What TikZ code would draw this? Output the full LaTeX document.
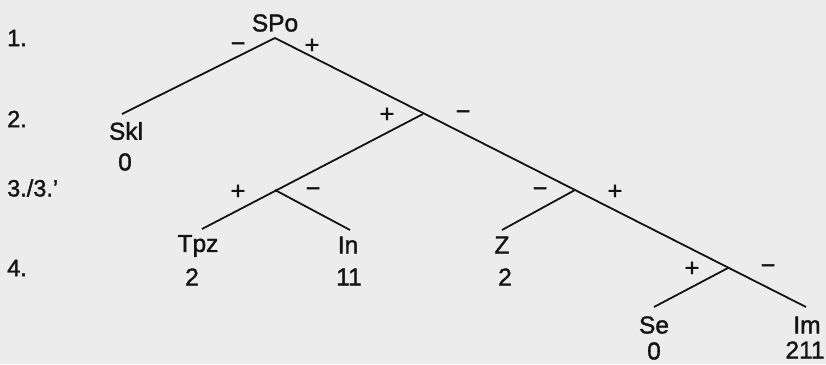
\documentclass[tikz,border=0pt]{standalone}
\usepackage{fontspec}
\setmainfont{Liberation Sans}[FakeBold=1.5]
\definecolor{paper}{RGB}{236,236,236}
\definecolor{ink}{RGB}{20,20,20}
\tikzset{
  lab/.style={inner sep=0pt, text=ink, font=\fontsize{24.5}{28}\selectfont},
  sgn/.style={inner sep=0pt, text=ink, font=\fontsize{25}{28}\selectfont},
  lvl/.style={inner sep=0pt, anchor=west, text=ink, font=\fontsize{23.5}{27}\selectfont},
  br/.style={draw=ink, line width=1.8pt}
}
\begin{document}
\begin{tikzpicture}[x=1pt,y=-1pt]
\fill[paper] (0,0) rectangle (826,364);
\useasboundingbox (0,0) rectangle (826,364);
% level labels
\node[lvl] (l1) at (7,38) {1.};
\node[lvl] (l2) at (7,119) {2.};
\node[lvl] (l3) at (7,188) {3./3.'};
\node[lvl] (l4) at (7,268) {4.};
% junctions and branch ends
\coordinate (r) at (275,38);
\coordinate (a) at (423,114);
\coordinate (b) at (275,190);
\coordinate (c) at (575,190);
\coordinate (d) at (728,268);
\coordinate (eskl) at (122,114);
\coordinate (etpz) at (202,229);
\coordinate (ein) at (350,230);
\coordinate (ez) at (502,230);
\coordinate (ese) at (654,307);
\coordinate (eim) at (806,307);
% branches
\draw[br] (r) -- (eskl);
\draw[br] (r) -- (eim);
\draw[br] (a) -- (etpz);
\draw[br] (b) -- (ein);
\draw[br] (c) -- (ez);
\draw[br] (d) -- (ese);
% node labels
\node[lab] (spo) at (275,23) {SPo};
\node[lab] (skl) at (126,131) {Skl};
\node[lab] (skln) at (125,162) {0};
\node[lab] (tpz) at (198,246) {Tpz};
\node[lab] (tpzn) at (192,277) {2};
\node[lab] (in) at (348,245) {In};
\node[lab] (inn) at (349,277) {11};
\node[lab] (z) at (502,245) {Z};
\node[lab] (zn) at (505,277) {2};
\node[lab] (se) at (654,325) {Se};
\node[lab] (sen) at (654,351) {0};
\node[lab] (im) at (807,325) {Im};
\node[lab] (imn) at (805,350) {211};
% signs
\node[sgn] (s1) at (238,47) {−};
\node[sgn] (s2) at (312,46) {+};
\node[sgn] (s3) at (387,115) {+};
\node[sgn] (s4) at (463,115) {−};
\node[sgn] (s5) at (238,192) {+};
\node[sgn] (s6) at (313,192) {−};
\node[sgn] (s7) at (540,192) {−};
\node[sgn] (s8) at (615,192) {+};
\node[sgn] (s9) at (692,269) {+};
\node[sgn] (s10) at (768,269) {−};
\end{tikzpicture}
\end{document}
